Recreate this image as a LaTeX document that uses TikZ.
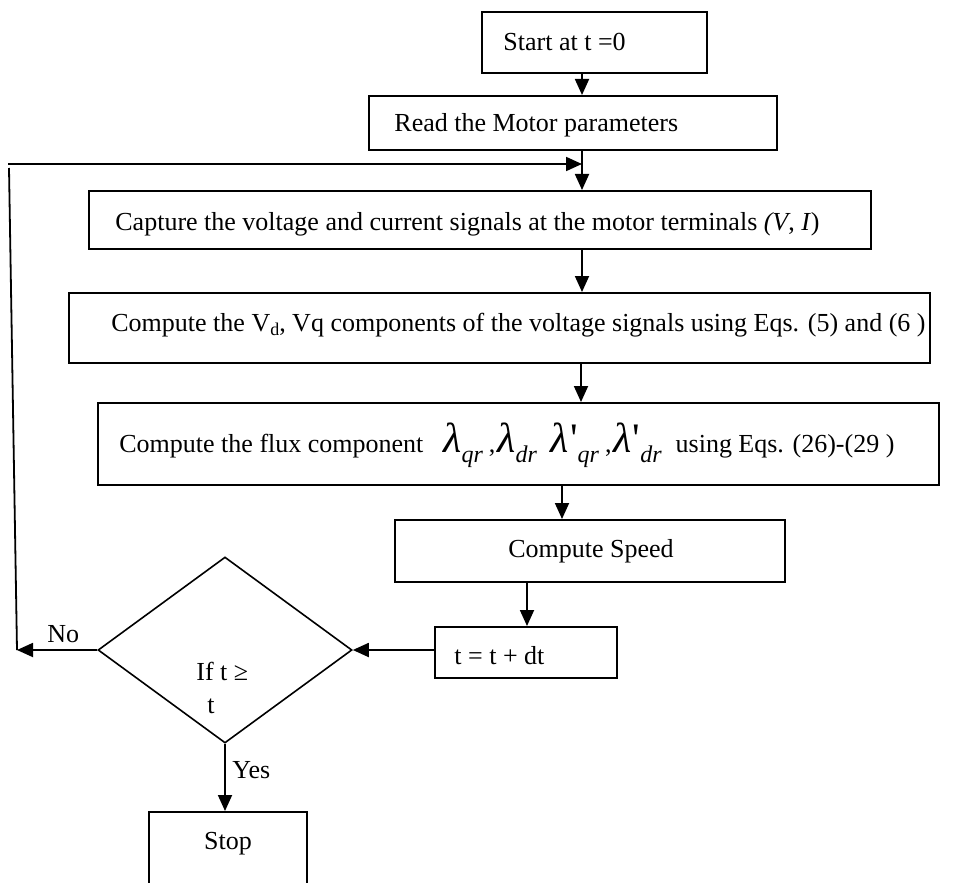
\documentclass[tikz,border=0pt]{standalone}
\usepackage{fontspec}
\setmainfont{Liberation Serif}
\usetikzlibrary{shapes.geometric,arrows.meta}
\newcommand\biglam{{\fontsize{21}{21}\selectfont\itshape λ}}
\newcommand\biglamp{{\fontsize{21}{21}\selectfont\itshape λ\kern0.5pt\upshape\textquotesingle}}
\newcommand\lsub[1]{\raisebox{-0.9ex}{\fontsize{12}{12}\selectfont\itshape #1}}
\begin{document}
\begin{tikzpicture}[x=0.5pt,y=-0.5pt,
  box/.style={draw,line width=1pt,inner sep=0pt,rectangle},
  dbox/.style={draw,line width=0.8pt,inner sep=0pt,diamond},
  lbl/.style={inner sep=0pt,anchor=base west,font=\fontsize{13}{15}\selectfont},
  clbl/.style={inner sep=0pt,anchor=base,font=\fontsize{13}{15}\selectfont},
  arr/.style={line width=0.9pt,-{Triangle[length=8pt,width=7pt]}},
  ln/.style={line width=0.9pt}]
\useasboundingbox (0,0) rectangle (972,882);
% boxes
\node[box,minimum width=112.5pt,minimum height=30.5pt] (start) at (594.5,42.5) {};
\node[box,minimum width=204pt,minimum height=27pt] (read) at (573,123) {};
\node[box,minimum width=391pt,minimum height=29pt] (capture) at (480,220) {};
\node[box,minimum width=430.5pt,minimum height=35pt] (vd) at (499.5,328) {};
\node[box,minimum width=420.5pt,minimum height=41pt] (flux) at (518.5,444) {};
\node[box,minimum width=195pt,minimum height=31pt] (speed) at (590,551) {};
\node[box,minimum width=91pt,minimum height=25.5pt] (tbox) at (526,652.5) {};
\node[dbox,minimum width=127pt,minimum height=93pt] (dia) at (225,650) {};
\node[box,minimum width=79pt,minimum height=50pt] (stop) at (228,862) {};
% texts
\node[lbl] (tstart) at (503,51) {Start at t =0};
\node[lbl] (tread) at (394,132) {Read the Motor parameters};
\node[lbl] (tcap) at (115,230) {Capture the voltage and current signals at the motor terminals \textit{(V}, \textit{I})};
\node[lbl] (tvd) at (111,331) {Compute the V\raisebox{-0.4ex}{\fontsize{9}{9}\selectfont d}, Vq components of the voltage signals using Eqs. (5) and (6 )};
\node[lbl] (tflux) at (119,452) {Compute the flux component\hspace{10pt}\biglam\lsub{qr}\hspace{3pt},\hspace{1pt}\biglam\lsub{dr}\hspace{7pt}\biglamp\lsub{qr}\hspace{3pt},\hspace{1pt}\biglamp\lsub{dr}\hspace{7pt}using Eqs. (26)-(29 )};
\node[clbl] (tspeed) at (591,557) {Compute Speed};
\node[lbl] (tt) at (454,664) {t = t + dt};
\node[lbl] (tif) at (196,680) {If t ≥};
\node[lbl] (tif2) at (207,713) {t};
\node[lbl] (tno) at (47,642) {No};
\node[lbl] (tyes) at (232,778) {Yes};
\node[clbl] (tstop) at (228,849) {Stop};
% connector coordinates
\coordinate (c1) at (582,0);
\coordinate (c2) at (581,0);
\coordinate (c3) at (562,0);
\coordinate (c4) at (527,0);
\coordinate (fbtop) at (8,164);
\coordinate (fbend) at (582,164);
\coordinate (fbvt) at (9,168);
\coordinate (fbbot) at (17,650);
% connectors
\draw[arr] (start.south -| c1) -- (read.north -| c1);
\draw[arr] (read.south -| c1) -- (capture.north -| c1);
\draw[arr] (fbtop) -- (fbend);
\draw[ln] (fbbot) -- (fbvt);
\draw[arr] (capture.south -| c1) -- (vd.north -| c1);
\draw[arr] (vd.south -| c2) -- (flux.north -| c2);
\draw[arr] (flux.south -| c3) -- (speed.north -| c3);
\draw[arr] (speed.south -| c4) -- (tbox.north -| c4);
\draw[arr] (tbox.west |- dia.east) -- (dia.east);
\draw[arr] (dia.west) -- (fbbot);
\draw[arr] (dia.south) -- (dia.south |- stop.north);
\end{tikzpicture}
\end{document}
